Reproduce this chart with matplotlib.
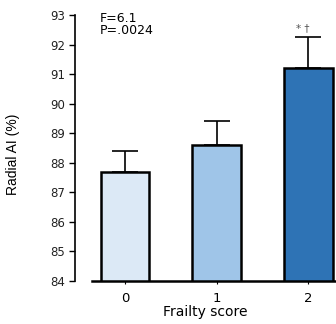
import numpy as np
import matplotlib
matplotlib.use("Agg")
import matplotlib.pyplot as plt

categories = ["0", "1", "2"]
means = [87.7, 88.6, 91.2]
errors = [0.7, 0.8, 1.05]
colors = ["#dce9f6", "#9fc5e8", "#2e73b5"]
yticks = [84, 85, 86, 87, 88, 89, 90, 91, 92, 93]
base = 84

fig = plt.figure(figsize=(3.36, 3.24), dpi=100)
ax = fig.add_axes([75/336, 43/324, 261/336, 266/324])

x = np.arange(len(categories))
heights = np.array(means) - base
ax.bar(x, heights, bottom=base, width=0.53, color=colors, edgecolor="black",
       linewidth=1.8, zorder=3)
ax.errorbar(x, means, yerr=[np.zeros(len(errors)), errors], fmt="none",
            ecolor="black", elinewidth=1.2, capsize=9.5, capthick=1.2, zorder=2)

ax.set_xlim(-0.545, 2.30)
ax.set_ylim(84, 93)
ax.set_yticks(yticks)
ax.set_xticks(x)
ax.set_xticklabels(categories, fontsize=9.5, family="DejaVu Sans")
ax.tick_params(axis="y", labelsize=8.5, length=4, width=1, pad=3)
ax.tick_params(axis="x", length=2, width=0.8, pad=6)
for lab in ax.get_yticklabels():
    lab.set_family("DejaVu Sans")
    lab.set_color("#222222")

for s in ["top", "right"]:
    ax.spines[s].set_visible(False)
ax.spines["left"].set_linewidth(1.2)
ax.spines["bottom"].set_linewidth(1.8)
ax.spines["bottom"].set_bounds(-0.36, 2.30)

ax.set_ylabel("Radial AI (%)", family="Liberation Sans", fontsize=10)
ax.yaxis.set_label_coords(-0.21, 0.475)
ax.set_xlabel("Frailty score", family="DejaVu Sans", fontsize=10, labelpad=0)

ax.text(0.095, 1.012, "F=6.1\nP=.0024", transform=ax.transAxes, fontsize=9,
        family="DejaVu Sans", va="top", ha="left", linespacing=0.95)
ax.text(x[2] - 0.06, means[2] + errors[2] + 0.15, "* \u2020", ha="center", va="bottom",
        fontsize=7.5, color="#555555")

fig.savefig("out.png", dpi=100)
